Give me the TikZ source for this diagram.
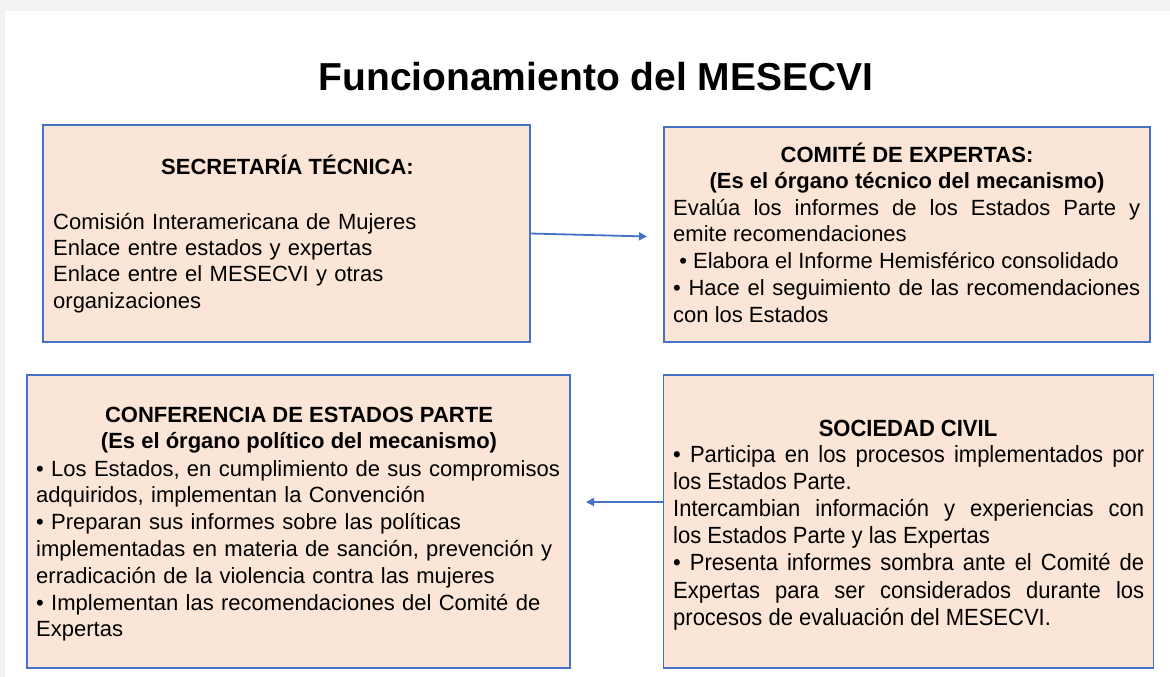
\documentclass[tikz,border=0pt]{standalone}
\usepackage{fontspec}
\setmainfont{Liberation Sans}
\newfontfamily\narrowfont{Liberation Sans}[FakeStretch=0.94]
\usetikzlibrary{arrows.meta}
\definecolor{boxfill}{HTML}{FBE5D6}
\definecolor{boxline}{HTML}{4472C4}
\definecolor{pagegray}{HTML}{F2F2F2}
\begin{document}
\begin{tikzpicture}[x=1pt,y=-1pt,
  panel/.style={draw=boxline, line width=1.1pt, fill=boxfill, inner sep=0pt},
  head/.style={font=\fontsize{22}{26.5}\selectfont\bfseries, inner sep=0pt, anchor=base},
  body/.style={inner sep=0pt, anchor=base west},
  conn/.style={draw=boxline, line width=1.8pt, -{Triangle[length=8pt,width=8pt]}}]
\useasboundingbox (0,0) rectangle (1170,677);
\fill[pagegray] (0,0) rectangle (1170,677);
\fill[white] (5,11) rectangle (1170,677);

\node[font=\fontsize{39}{46}\selectfont\bfseries, anchor=base, inner sep=0pt] (title) at (596,90) {Funcionamiento del MESECVI};

% panels
\node[panel, minimum width=487pt, minimum height=217pt] (b1) at (286.5,233.5) {};
\node[panel, minimum width=486pt, minimum height=215pt] (b2) at (907,234.5) {};
\node[panel, minimum width=543pt, minimum height=293pt] (b3) at (298.5,521.5) {};
\node[panel, minimum width=490pt, minimum height=293pt] (b4) at (908.5,521.5) {};

% panel 1
\node[head] (h1) at (287.5,174) {SECRETARÍA TÉCNICA:};
\node[body, text width=470pt, align=left, font=\fontsize{22}{26.4}\selectfont] (t1) at (53,229)
  {Comisión Interamericana de Mujeres\\Enlace entre estados y expertas\\Enlace entre el MESECVI y otras\\organizaciones};

% panel 2
\node[head] (h2a) at (907,162) {COMITÉ DE EXPERTAS:};
\node[head] (h2b) at (907,188) {(Es el órgano técnico del mecanismo)};
\node[body, text width=467pt, align=justify, font=\fontsize{22}{26.9}\selectfont] (t2) at (673,215)
  {Evalúa los informes de los Estados Parte y\linebreak emite recomendaciones\newline
  \hspace*{0.28em}• Elabora el Informe Hemisférico consolidado\newline
  • Hace el seguimiento de las recomendaciones\linebreak con los Estados};

% panel 3
\node[head] (h3a) at (299,422) {CONFERENCIA DE ESTADOS PARTE};
\node[head] (h3b) at (299,448) {(Es el órgano político del mecanismo)};
\node[body, text width=525pt, align=left, font=\fontsize{22}{26.8}\selectfont] (t3) at (36,476)
  {• Los Estados, en cumplimiento de sus compromisos\\adquiridos, implementan la Convención\\• Preparan sus informes sobre las políticas\\implementadas en materia de sanción, prevención y\\erradicación de la violencia contra las mujeres\\• Implementan las recomendaciones del Comité de\\Expertas};

% panel 4
\node[head, font=\narrowfont\fontsize{23.4}{27.2}\selectfont\bfseries] (h4) at (908,436) {SOCIEDAD CIVIL};
\node[body, text width=471pt, align=justify, font=\narrowfont\fontsize{23.4}{27.2}\selectfont] (t4) at (673,462)
  {• Participa en los procesos implementados por\linebreak los Estados Parte.\newline
  Intercambian información y experiencias con\linebreak los Estados Parte y las Expertas\newline
  • Presenta informes sombra ante el Comité de\linebreak Expertas para ser considerados durante los\linebreak procesos de evaluación del MESECVI.};

% connectors
\coordinate (a1end) at (647,236.5);
\coordinate (a2end) at (586,502);
\draw[conn] (b1.east) -- (a1end);
\draw[conn] (b4.west |- a2end) -- (a2end);
\end{tikzpicture}
\end{document}
